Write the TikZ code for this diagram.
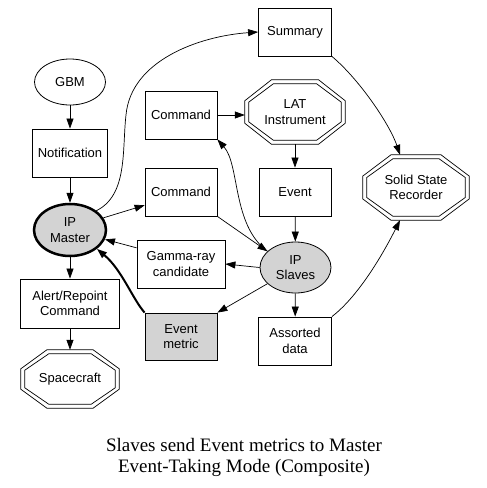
\documentclass[tikz,border=0pt]{standalone}
\usepackage{fontspec}
\setmainfont{Liberation Sans}
\newfontfamily\capfont{Liberation Serif}
\usepackage{tikz}
\usetikzlibrary{arrows.meta, positioning, calc, shapes.geometric}
\definecolor{ipgray}{RGB}{211,211,211}

\begin{document}
\begin{tikzpicture}[
    x=1pt, y=-1pt,
    >={Triangle[length=10pt, width=7pt]},
    lbl/.style={font=\fontsize{13}{15.5}\selectfont, align=center, inner sep=0pt},
    box/.style={lbl, draw, line width=0.8pt, minimum width=72pt, minimum height=48pt},
    oval/.style={lbl, draw, ellipse, line width=0.8pt, minimum width=71pt, minimum height=48pt},
    octa/.style={lbl, minimum width=100pt, minimum height=64pt},
    lnk/.style={->, line width=0.7pt},
]
\useasboundingbox (0,0) rectangle (487,488);
% === Left column ===
\node[oval, minimum height=46pt] (gbm) at (70,82) {GBM};
\node[box, minimum width=75pt] (notif) at (70,153) {Notification};
\node[oval, fill=ipgray, line width=2.5pt, minimum width=72pt, minimum height=52pt] (master) at (70,230) {IP\\Master};
\node[box, minimum width=99pt, minimum height=49pt] (alert) at (70,303.5) {Alert/Repoint\\Command};
\node[octa, minimum width=98pt, minimum height=58pt] (craft) at (70,379) {Spacecraft};
% === Middle column ===
\node[box] (cmda) at (181,115) {Command};
\node[box] (cmdb) at (181,192) {Command};
\node[box, minimum width=88pt] (gamma) at (181,264) {Gamma-ray\\candidate};
\node[box, fill=ipgray, minimum height=47pt] (emet) at (181,336.5) {Event\\metric};
% === Right column ===
\node[box, minimum width=73pt] (sum) at (295,32) {Summary};
\node[octa] (lat) at (295,112) {LAT\\Instrument};
\node[box] (event) at (295,192) {Event};
\node[oval, fill=ipgray, minimum height=51pt] (slaves) at (295.5,267.5) {IP\\Slaves};
\node[box, minimum width=73pt] (assort) at (295,341) {Assorted\\data};
\node[octa, minimum width=106pt, minimum height=65pt] (ssr) at (416,187.5) {Solid State\\Recorder};
% double octagons
\foreach \nd in {craft, lat, ssr} {
  \foreach \d in {0, 4} {
    \draw[line width=0.7pt] let \p1=(\nd.center), \p2=(\nd.north east),
      \n1={\x2-\x1-\d pt}, \n2={\y2-\y1-\d pt} in
      (\x1+0.47*\n1, \y1+\n2) -- (\x1+\n1, \y1+0.35*\n2) -- (\x1+\n1, \y1-0.35*\n2)
      -- (\x1+0.47*\n1, \y1-\n2) -- (\x1-0.47*\n1, \y1-\n2) -- (\x1-\n1, \y1-0.35*\n2)
      -- (\x1-\n1, \y1+0.35*\n2) -- (\x1-0.47*\n1, \y1+\n2) -- cycle;
  }
}
% === Edges ===
\draw[lnk] (gbm) -- (notif);
\draw[lnk] (notif) -- (master);
\draw[lnk] (master) -- (alert);
\draw[lnk] (alert) -- (craft);
\draw[lnk] (master.north east) .. controls (128,195) and (122,150) .. (126,115)
  .. controls (131,60) and (200,36) .. (sum.west);
\draw[lnk] (master.20) -- (cmdb.200);
\draw[lnk] (cmda.east) -- (cmda.east -| lat.west);
\draw[lnk] (lat) -- (event);
\draw[lnk] (event) -- (slaves);
\draw[lnk] (cmdb.south east) -- (slaves.150);
\draw[lnk] (slaves.150) .. controls (232,225) and (240,165) .. (cmda.south east);
\draw[lnk] (slaves.west) -- (gamma.east);
\draw[lnk] (gamma.160) -- (master.-15);
\draw[lnk] (slaves.210) -- (emet.north east);
\draw[lnk, line width=2pt] (emet.north west) .. controls (132,298) and (122,270) .. (master.-35);
\draw[lnk] (slaves) -- (assort);
\draw[lnk] (sum.south east) .. controls (360,80) and (390,125) .. ($(ssr.north)+(-16,0)$);
\draw[lnk] (assort.north east) .. controls (360,295) and (385,250) .. ($(ssr.south)+(-16,0)$);
% === Caption ===
\node[font=\capfont\fontsize{19}{21}\selectfont, align=center] (caption) at (244,457)
  {Slaves send Event metrics to Master\\Event-Taking Mode (Composite)};
\end{tikzpicture}
\end{document}
